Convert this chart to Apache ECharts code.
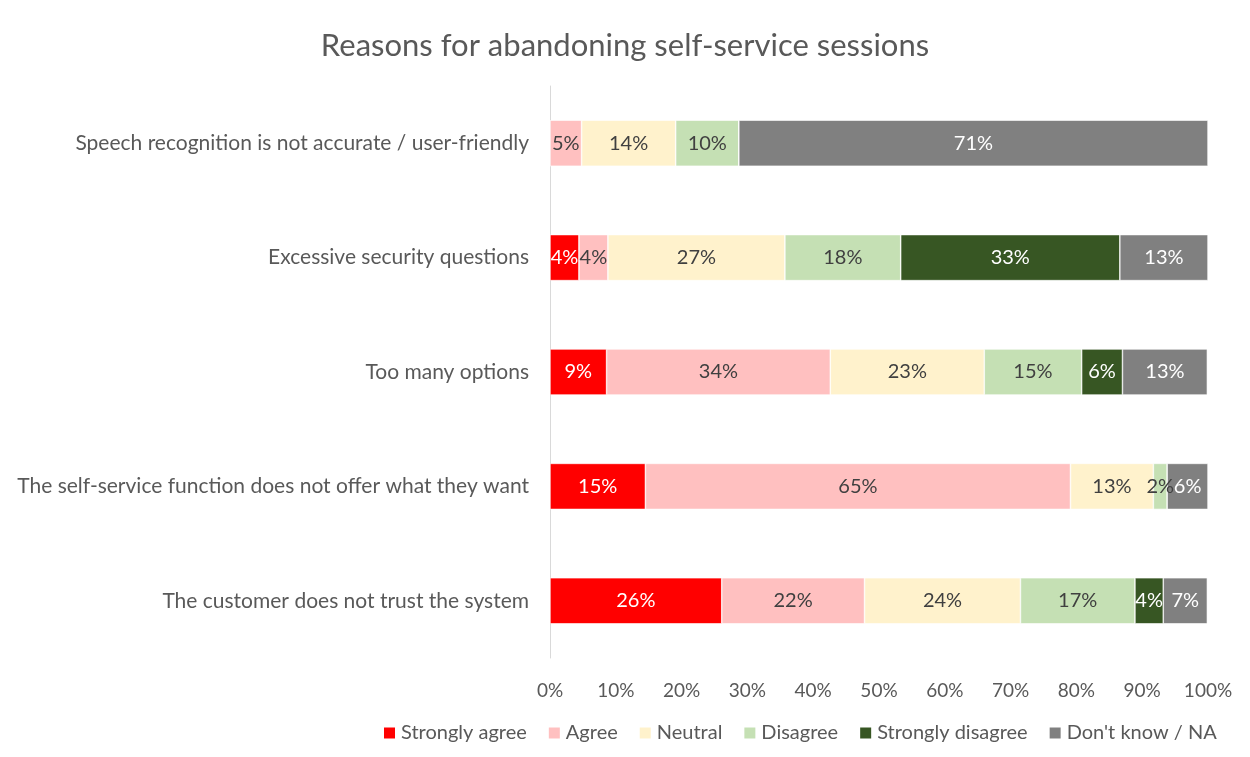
<!DOCTYPE html>
<html>
<head>
<meta charset="utf-8">
<script src="https://cdn.jsdelivr.net/npm/echarts@6/dist/echarts.min.js"></script>
<style>html,body{margin:0;padding:0;background:#fff}#c{width:1250px;height:757px}</style>
</head>
<body>
<div id="c"></div>
<script>
const categories = [
  "Speech recognition is not accurate / user-friendly",
  "Excessive security questions",
  "Too many options",
  "The self-service function does not offer what they want",
  "The customer does not trust the system"
];
const seriesNames = ["Strongly agree", "Agree", "Neutral", "Disagree", "Strongly disagree", "Don't know / NA"];
const stronglyAgree    = [0,    4.4,  8.6,  14.5, 26.1];
const agree            = [4.8,  4.4,  34.0, 64.6, 21.7];
const neutral          = [14.3, 26.9, 23.4, 12.6, 23.7];
const disagree         = [9.6,  17.6, 14.8, 2.1,  17.4];
const stronglyDisagree = [0,    33.3, 6.2,  0,    4.3];
const dontKnow         = [71.3, 13.4, 12.9, 6.2,  6.7];
const xTicks = ["0%","10%","20%","30%","40%","50%","60%","70%","80%","90%","100%"];

const colors = ["#FF0000", "#FFC0C0", "#FFF2CC", "#C5E0B4", "#375623", "#808080"];
const labelColors = ["#ffffff", "#404040", "#404040", "#404040", "#ffffff", "#ffffff"];
const FONT = "Lato";
const dataSets = [stronglyAgree, agree, neutral, disagree, stronglyDisagree, dontKnow];

const chart = echarts.init(document.getElementById('c'), null, {renderer: 'canvas'});
chart.setOption({
  animation: false,
  textStyle: {fontFamily: FONT},
  title: {
    text: "Reasons for abandoning self-service sessions",
    left: 'center', top: 25,
    textStyle: {fontFamily: FONT, fontSize: 31, fontWeight: 'normal', color: '#595959'}
  },
  legend: {
    bottom: 9, left: 377,
    itemWidth: 13, itemHeight: 13, itemGap: 20,
    icon: 'rect',
    textStyle: {fontFamily: FONT, fontSize: 20, color: '#595959'},
    data: seriesNames
  },
  grid: {left: 550, right: 42, top: 86, bottom: 99, containLabel: false},
  xAxis: {
    type: 'value', min: 0, max: 100, interval: 10,
    axisLine: {show: false}, axisTick: {show: false},
    splitLine: {show: false},
    axisLabel: {
      fontFamily: FONT, fontSize: 19, color: '#595959', margin: 23,
      formatter: v => xTicks[Math.round(v / 10)]
    }
  },
  yAxis: {
    type: 'category', data: categories, inverse: true,
    axisLine: {show: true, lineStyle: {color: '#D9D9D9', width: 1}},
    axisTick: {show: false},
    axisLabel: {fontFamily: FONT, fontSize: 21, color: '#595959', margin: 21}
  },
  series: seriesNames.map((name, i) => ({
    name: name, type: 'bar', stack: 'total',
    barWidth: 46,
    itemStyle: {color: colors[i], borderColor: '#ffffff', borderWidth: 0.6},
    label: {
      show: true, position: 'inside',
      fontFamily: FONT, fontSize: 20, color: labelColors[i],
      formatter: p => p.value > 0 ? Math.round(p.value) + '%' : ''
    },
    data: dataSets[i]
  }))
});
</script>
</body>
</html>
